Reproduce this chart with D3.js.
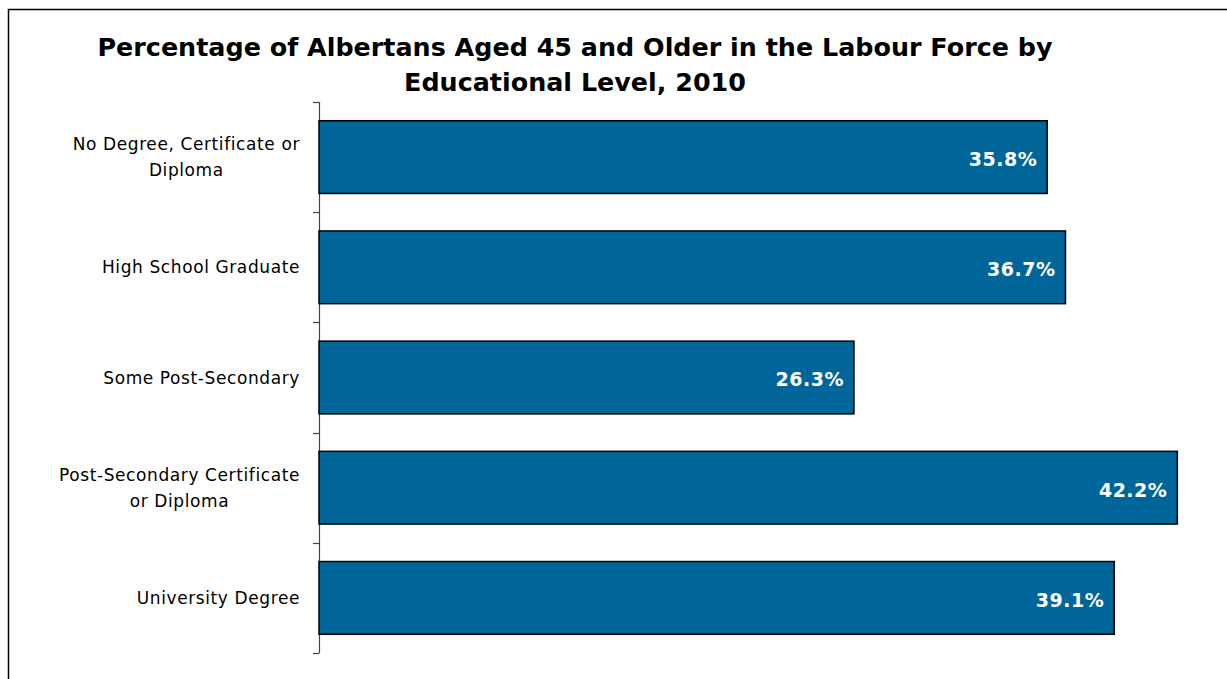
<!DOCTYPE html>
<html>
<head>
<meta charset="utf-8">
<script src="https://cdn.jsdelivr.net/npm/d3@7"></script>
<style>
  body { margin: 0; background: #fff; }
  svg { display: block; }
</style>
</head>
<body>
<div id="chart"></div>
<script>
// categories (wrapped lines) and values
var categories = [
  ["No Degree, Certificate or", "Diploma"],
  ["High School Graduate"],
  ["Some Post-Secondary"],
  ["Post-Secondary Certificate", "or Diploma"],
  ["University Degree"]
];
var values = [35.8, 36.7, 26.3, 42.2, 39.1];
var titleLines = [
  "Percentage of Albertans Aged 45 and Older in the Labour Force by",
  "Educational Level, 2010"
];

var width = 1227, height = 679;
var margin = {top: 102, left: 319, bottom: 26, right: 0};
var barColor = "#006699";
var font = "'DejaVu Sans', Verdana, sans-serif";

var svg = d3.select("#chart").append("svg")
  .attr("width", width)
  .attr("height", height);

// outer frame
svg.append("rect")
  .attr("x", 8.5).attr("y", 9.5)
  .attr("width", width + 20).attr("height", height + 20)
  .attr("fill", "none")
  .attr("stroke", "#000")
  .attr("stroke-width", 1.5);

// title
svg.append("g").selectAll("text")
  .data(titleLines)
  .enter().append("text")
    .attr("x", 575)
    .attr("y", function(d, i) { return 56 + i * 35; })
    .attr("text-anchor", "middle")
    .attr("font-family", font)
    .attr("font-weight", "bold")
    .attr("font-size", "25.4px")
    .attr("fill", "#000")
    .text(function(d) { return d; });

var idx = d3.range(categories.length);
var y = d3.scaleBand()
  .domain(idx)
  .range([margin.top, height - margin.bottom])
  .paddingInner(0.34)
  .paddingOuter(0.17);

var x = d3.scaleLinear()
  .domain([0, 44])
  .range([margin.left, margin.left + 44 * 20.34]);

// category axis: ticks at band boundaries
var step = y.step();
var bounds = d3.range(categories.length + 1).map(function(i) { return margin.top + i * step; });
var axisG = svg.append("g");
axisG.append("line")
  .attr("x1", margin.left + 0.5).attr("x2", margin.left + 0.5)
  .attr("y1", bounds[0]).attr("y2", bounds[bounds.length - 1])
  .attr("stroke", "#444").attr("stroke-width", 1.2);
axisG.selectAll("line.tick")
  .data(bounds)
  .enter().append("line")
    .attr("class", "tick")
    .attr("x1", margin.left - 6).attr("x2", margin.left + 0.5)
    .attr("y1", function(d) { return Math.round(d) + 0.5; })
    .attr("y2", function(d) { return Math.round(d) + 0.5; })
    .attr("stroke", "#444").attr("stroke-width", 1.2);

// bars
svg.append("g").selectAll("rect")
  .data(values)
  .enter().append("rect")
    .attr("x", x(0))
    .attr("y", function(d, i) { return y(i); })
    .attr("width", function(d) { return x(d) - x(0); })
    .attr("height", y.bandwidth())
    .attr("fill", barColor)
    .attr("stroke", "#000")
    .attr("stroke-width", 1.5);

// value labels
svg.append("g").selectAll("text")
  .data(values)
  .enter().append("text")
    .attr("x", function(d) { return x(d) - 10; })
    .attr("y", function(d, i) { return y(i) + y.bandwidth() / 2 + 2; })
    .attr("dy", "0.36em")
    .attr("text-anchor", "end")
    .attr("font-family", font)
    .attr("font-weight", "bold")
    .attr("font-size", "19px")
    .attr("letter-spacing", "0.5px")
    .attr("fill", "#fff")
    .text(function(d) { return d.toFixed(1) + "%"; });

// category labels, wrapped lines centred in a block right-aligned to x=300
var labelG = svg.append("g")
  .attr("font-family", font)
  .attr("font-size", "17px")
  .attr("letter-spacing", "0.6px")
  .attr("fill", "#000");
categories.forEach(function(lines, i) {
  var cy = y(i) + y.bandwidth() / 2;
  var lh = 26;
  var t = labelG.append("text").attr("text-anchor", "middle");
  var spans = lines.map(function(s, j) {
    return t.append("tspan")
      .attr("y", cy + (j - (lines.length - 1) / 2) * lh)
      .attr("dy", "0.36em")
      .text(s);
  });
  var maxW = d3.max(spans, function(s) { return s.node().getComputedTextLength(); });
  spans.forEach(function(s) { s.attr("x", 300 - maxW / 2); });
});
</script>
</body>
</html>
